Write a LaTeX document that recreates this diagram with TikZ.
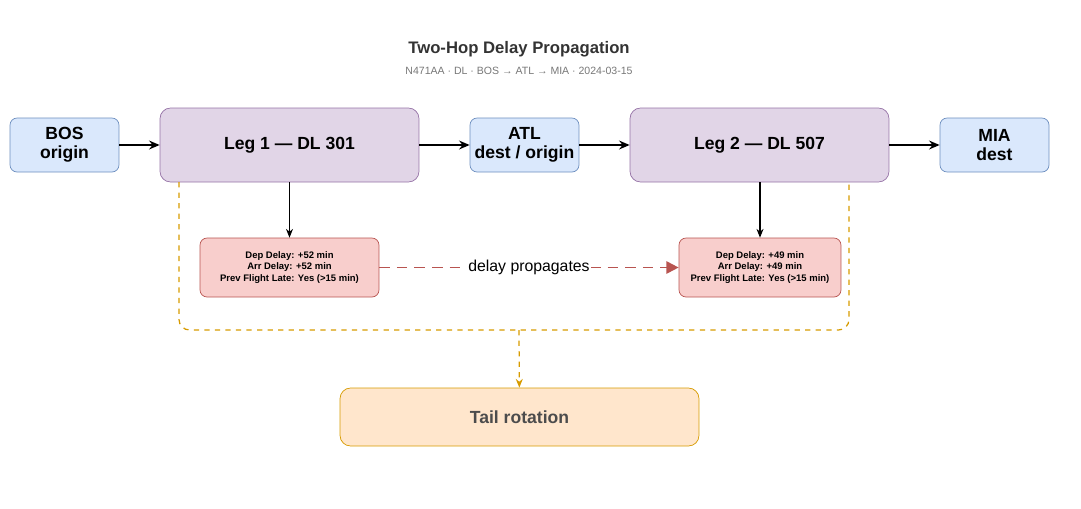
\documentclass[tikz,border=0pt]{standalone}
\usepackage{fontspec}
\setmainfont{Liberation Sans}
\usetikzlibrary{positioning,arrows.meta}
\definecolor{bluefill}{HTML}{DAE8FC}\definecolor{bluedraw}{HTML}{6C8EBF}
\definecolor{legfill}{HTML}{E1D5E7}\definecolor{legdraw}{HTML}{9673A6}
\definecolor{delayfill}{HTML}{F8CECC}\definecolor{delaydraw}{HTML}{B85450}
\definecolor{tailfill}{HTML}{FFE6CC}\definecolor{taildraw}{HTML}{D79B00}
\tikzset{
  airport/.style={draw=bluedraw, fill=bluefill, rounded corners=4pt, minimum width=2.18cm, minimum height=1.08cm, align=center, font=\fontsize{10}{11}\selectfont\bfseries, inner sep=0pt},
  leg/.style={draw=legdraw, fill=legfill, rounded corners=6pt, minimum width=5.18cm, minimum height=1.48cm, font=\fontsize{10}{12}\selectfont\bfseries},
  delay/.style={draw=delaydraw, fill=delayfill, rounded corners=4pt, minimum height=1.18cm, align=center, font=\fontsize{5.4}{6.6}\selectfont\bfseries, inner sep=1pt},
  flow/.style={-{Stealth[length=6pt,width=5pt]}, line width=1.1pt},
  drop/.style={-{Stealth[length=5pt,width=4pt]}, line width=0.6pt}
}
\begin{document}
\begin{tikzpicture}[x=0.02cm, y=-0.02cm]
        \useasboundingbox (0,0) rectangle (1081,508);

        % Title
        \node (title) at (519,49) {\fontsize{9.5}{11}\selectfont\bfseries\color[HTML]{333333}Two-Hop Delay Propagation};
        \node (subtitle) at (519,71) {\fontsize{6}{7}\selectfont\color[HTML]{777777}N471AA · DL · BOS → ATL → MIA · 2024-03-15};

        % Airports and legs
        \node[airport] (bos) at (64.5,145) {BOS\\origin};
        \node[leg] (leg1) at (289.5,145) {Leg 1 — DL 301};
        \node[airport] (atl) at (524.5,145) {ATL\\dest / origin};
        \node[leg] (leg2) at (759.5,145) {Leg 2 — DL 507};
        \node[airport] (mia) at (994.5,145) {MIA\\dest};

        \draw[flow] (bos) -- (leg1);
        \draw[flow] (leg1) -- (atl);
        \draw[flow] (atl) -- (leg2);
        \draw[flow] (leg2) -- (mia);

        % Delay details
        \node[delay, minimum width=3.58cm] (delay1) at (289.5,267.5) {Dep Delay: +52 min\\Arr Delay: +52 min\\Prev Flight Late: Yes (>15 min)};
        \node[delay, minimum width=3.24cm] (delay2) at (760,267.5) {Dep Delay: +49 min\\Arr Delay: +49 min\\Prev Flight Late: Yes (>15 min)};

        \draw[drop] (leg1) -- (delay1);
        \draw[drop] (leg2.south -| delay2) -- (delay2);
        \draw[-{Triangle[length=7pt,width=7pt]}, dashed, dash pattern=on 6pt off 4pt, line width=1.1pt, delaydraw] (delay1) -- node[fill=white, inner sep=1pt, text=black, font=\fontsize{9}{10}\selectfont] {delay propagates} (delay2);

        % Tail rotation
        \node[draw=taildraw, fill=tailfill, rounded corners=6pt, minimum width=7.18cm, minimum height=1.16cm, font=\fontsize{10}{12}\selectfont\bfseries, text=black!70] (tail) at (519.5,417) {Tail rotation};
        \coordinate (join) at (519,330);
        \draw[taildraw, dashed, line width=0.7pt, rounded corners=6pt] (179,182) |- (join) -| (849,182);
        \draw[taildraw, dashed, line width=0.7pt, -{Stealth[length=5pt,width=4pt]}] (join) -- (tail);
\end{tikzpicture}
\end{document}
